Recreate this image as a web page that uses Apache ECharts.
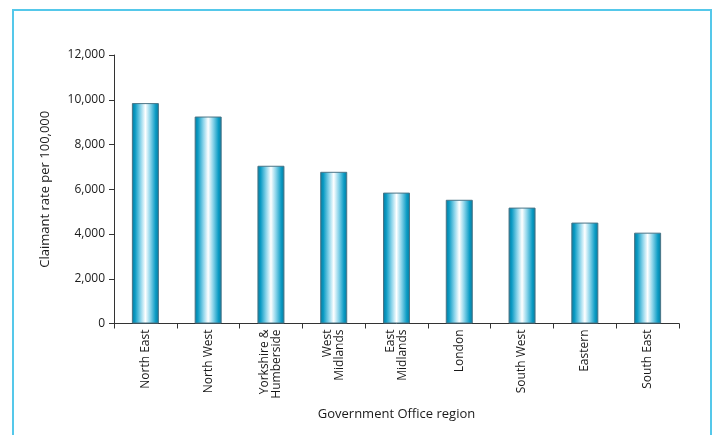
<!DOCTYPE html>
<html>
<head>
<meta charset="utf-8">
<script src="https://cdn.jsdelivr.net/npm/echarts@6/dist/echarts.min.js"></script>
<style>
  html, body { margin: 0; padding: 0; background: #ffffff; }
  #chart { width: 716px; height: 435px; }
</style>
</head>
<body>
<div id="chart"></div>
<script>
// Government Office regions and claimant rates per 100,000
const regions = [
  'North East', 'North West', 'Yorkshire &\nHumberside', 'West\nMidlands',
  'East\nMidlands', 'London', 'South West', 'Eastern', 'South East'
];
const claimantRates = [9850, 9250, 7050, 6780, 5850, 5530, 5180, 4510, 4060];

const yMin = 0;
const yMax = 12000;
const yStep = 2000;

const fontFamily = '"Open Sans", "Noto Sans", sans-serif';
const axisColor = '#333333';

const chart = echarts.init(document.getElementById('chart'));

chart.setOption({
  backgroundColor: '#ffffff',
  animation: false,
  graphic: [{
    type: 'rect',
    shape: { x: 13, y: 10, width: 698, height: 440 },
    style: { fill: 'none', stroke: '#55c8ea', lineWidth: 2 },
    silent: true
  }],
  grid: { left: 114, right: 37, top: 55, bottom: 111.5 },
  xAxis: {
    type: 'category',
    data: regions,
    name: 'Government Office region',
    nameLocation: 'middle',
    nameGap: 84,
    nameTextStyle: { fontFamily, fontSize: 13, color: '#1a1a1a' },
    axisLine: { lineStyle: { color: axisColor, width: 1 } },
    axisTick: { show: true, alignWithLabel: false, length: 5, lineStyle: { color: axisColor } },
    axisLabel: {
      rotate: 90, interval: 0, margin: 6,
      fontFamily, fontSize: 12, color: '#1a1a1a', lineHeight: 12
    }
  },
  yAxis: {
    type: 'value',
    min: yMin, max: yMax, interval: yStep,
    name: 'Claimant rate per 100,000',
    nameLocation: 'middle',
    nameGap: 62,
    nameTextStyle: { fontFamily, fontSize: 13, color: '#1a1a1a' },
    axisLine: { show: true, lineStyle: { color: axisColor, width: 1 } },
    axisTick: { show: true, length: 5, lineStyle: { color: axisColor } },
    splitLine: { show: false },
    axisLabel: {
      margin: 9, fontFamily, fontSize: 12, color: '#1a1a1a',
      formatter: v => v.toLocaleString('en-GB')
    }
  },
  series: [{
    type: 'bar',
    data: claimantRates,
    barWidth: 27,
    itemStyle: {
      borderColor: '#4a7486',
      borderWidth: 1,
      color: {
        type: 'linear', x: 0, y: 0, x2: 1, y2: 0,
        colorStops: [
          { offset: 0, color: '#06799c' },
          { offset: 0.12, color: '#0a9bc4' },
          { offset: 0.32, color: '#8ad4ea' },
          { offset: 0.5, color: '#ffffff' },
          { offset: 0.68, color: '#8ad4ea' },
          { offset: 0.88, color: '#0a9bc4' },
          { offset: 1, color: '#06799c' }
        ]
      }
    }
  }]
});
</script>
</body>
</html>
